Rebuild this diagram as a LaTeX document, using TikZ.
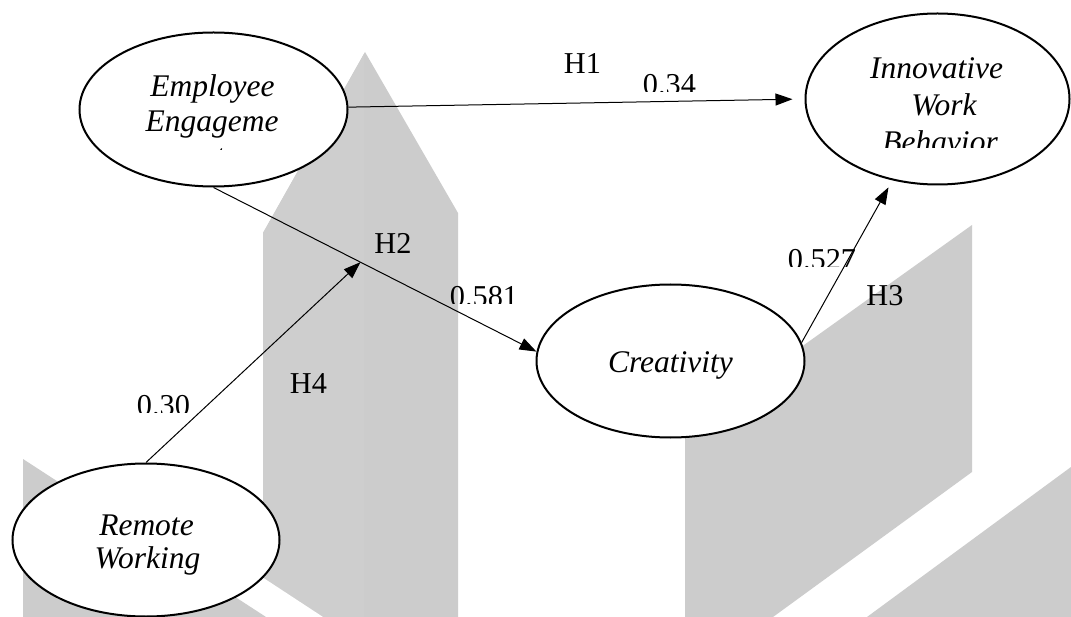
\documentclass[tikz,border=0pt]{standalone}
\usepackage{fontspec}
\setmainfont{Liberation Serif}
\usetikzlibrary{shapes.geometric,arrows.meta,calc}
\definecolor{wmgray}{RGB}{204,204,204}
\definecolor{wmlight}{RGB}{206,206,206}
\tikzset{
  latent/.style={ellipse, draw, line width=2pt, fill=white, inner sep=0pt},
  conn/.style={line width=1pt, -{Triangle[length=17pt,width=12pt]}},
  vartext/.style={font=\fontsize{31.5}{36}\selectfont\itshape, inner sep=0pt, anchor=base},
  lbl/.style={font=\fontsize{30.3}{34}\selectfont, inner sep=0pt, anchor=base},
  wm/.style={fill=wmgray, draw=none},
}
\begin{document}
\begin{tikzpicture}[x=1pt,y=-1pt]
\useasboundingbox (0,0) rectangle (1071,617);
\fill[white] (0,0) rectangle (1071,617);

% background watermark shapes
\fill[wm] (263,617) -- (263,233) -- (365,52) -- (458,213) -- (458,617) -- cycle;
\fill[wmlight] (263,617) -- (263,233) -- (364,54) -- (364,617) -- cycle;
\fill[white] (262,577) -- (323,617) -- (262,617) -- cycle;
\fill[wm] (23,459) -- (266,617) -- (23,617) -- cycle;
\fill[wm] (685,617) -- (685,430) -- (972,225) -- (972,472) -- (773,617) -- cycle;
\fill[wm] (867,617) -- (1071,467) -- (1071,617) -- cycle;

% latent variables
\node[latent, minimum width=268pt, minimum height=154pt] (ee)  at (213.5,109.5) {};
\node[latent, minimum width=264pt, minimum height=171pt] (iwb) at (937.5,99) {};
\node[latent, minimum width=268pt, minimum height=153pt] (cr)  at (670.5,361) {};
\node[latent, minimum width=267pt, minimum height=153pt] (rw)  at (146,540) {};

% variable names
\node[vartext] (ee1) at (212.5,97) {Employee};
\node[vartext] (ee2) at (212,132) {Engageme};
\begin{scope}
  \clip (100,140) rectangle (330,149.5);
  \node[vartext] (ee3) at (212,167) {nt};
\end{scope}
\node[vartext] (iwb1) at (936.5,79) {Innovative};
\node[vartext] (iwb2) at (944,116) {Work};
\begin{scope}
  \clip (820,120) rectangle (1060,148);
  \node[vartext] (iwb3) at (940,153) {Behavior};
\end{scope}
\node[vartext] (cr1) at (670.5,373) {Creativity};
\node[vartext] (rw1) at (146.5,535) {Remote};
\node[vartext] (rw2) at (147.5,568) {Working};

% paths
\coordinate (h2pt) at ($(ee.south)!0.455!(cr.176)$);
\draw[conn, shorten >=12pt] (ee.1) -- (iwb.west);
\draw[conn] (ee.south) -- (cr.176);
\draw[conn] (rw.north) -- (h2pt);
\draw[conn, shorten >=8pt] (cr.8) -- (iwb.241);

% hypothesis labels and coefficients
\node[lbl] (h1) at (582.5,74) {H1};
\node[lbl] (h2) at (393,254) {H2};
\node[lbl] (h3) at (885,306) {H3};
\node[lbl] (h4) at (308.5,394) {H4};
\begin{scope}
  \clip (600,60) rectangle (740,92);
  \node[lbl] (c1) at (669.5,95) {0.34};
\end{scope}
\begin{scope}
  \clip (420,270) rectangle (560,304);
  \node[lbl] (c2) at (484,307) {0.581};
\end{scope}
\begin{scope}
  \clip (760,230) rectangle (880,267);
  \node[lbl] (c3) at (822,270) {0.527};
\end{scope}
\begin{scope}
  \clip (120,380) rectangle (210,413);
  \node[lbl] (c4) at (163.5,416) {0.30};
\end{scope}
\end{tikzpicture}
\end{document}
